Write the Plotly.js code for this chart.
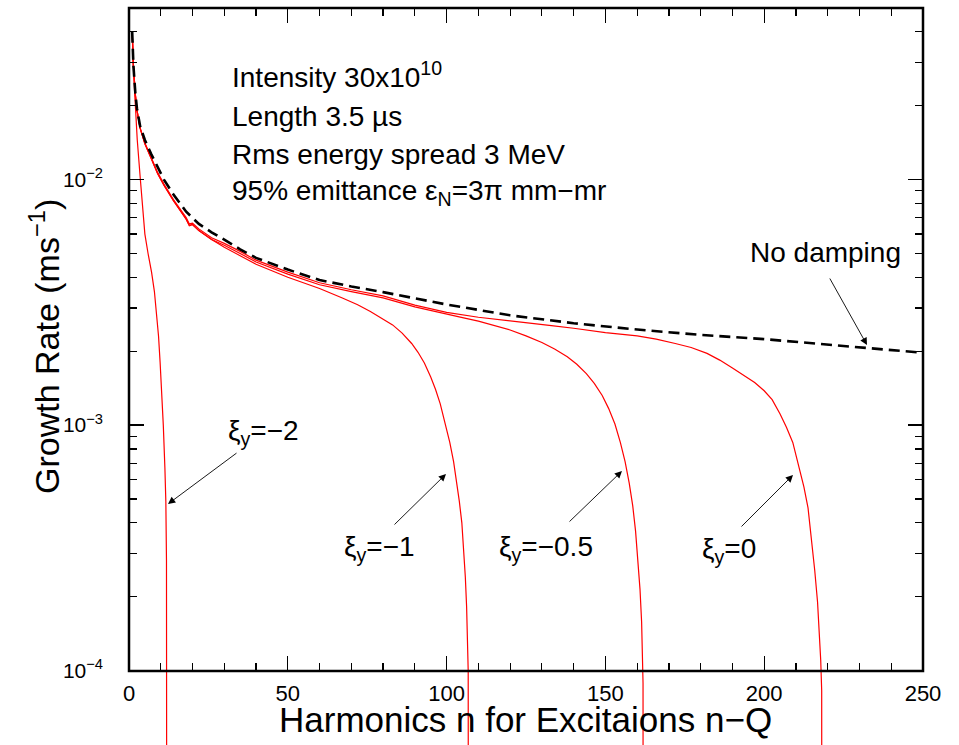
<!DOCTYPE html>
<html>
<head>
<meta charset="utf-8">
<script src="https://cdn.plot.ly/plotly-3.0.1.min.js"></script>
<style>html,body{margin:0;padding:0;background:#fff;}#chart{width:959px;height:745px;}</style>
</head>
<body>
<div id="chart"></div>
<script>
// ---- data ----
const noDampX = [1, 1.4, 2, 2.5, 3.5, 5, 7, 9, 11, 14, 18, 22, 26, 30, 35, 40, 50, 60, 70, 80, 100, 120, 140, 160, 180, 200, 225, 250];
const noDampY = [0.040, 0.029, 0.0225, 0.0195, 0.0165, 0.0145, 0.0127, 0.0112, 0.0100, 0.0087, 0.0074, 0.0066, 0.0061, 0.0057, 0.0052, 0.0048, 0.0043, 0.0039, 0.00367, 0.00348, 0.00310, 0.00280, 0.00260, 0.00245, 0.00233, 0.00224, 0.00210, 0.00197];

const xi0X = [1, 1.4, 2, 2.5, 3.5, 5, 7, 9, 11, 14, 18, 19, 20, 22, 26, 30, 35, 40, 50, 60, 70, 80, 90, 100, 110, 120, 133, 140, 150, 160, 166, 172, 177, 182, 186, 190, 194, 197, 200, 202.5, 205, 207, 209, 211, 212.5, 213.8, 214.9, 215.9, 216.8, 217.3, 217.8, 218.1, 218.2];
const xi0Y = [0.040, 0.029, 0.0222, 0.0192, 0.0162, 0.0141, 0.0123, 0.0107, 0.0096, 0.0083, 0.0070, 0.00660, 0.00665, 0.0063, 0.0058, 0.0055, 0.0051, 0.0047, 0.0042, 0.0038, 0.00356, 0.00336, 0.00308, 0.00288, 0.00275, 0.00265, 0.00254, 0.00248, 0.00238, 0.00231, 0.00224, 0.00215, 0.00207, 0.00196, 0.00184, 0.00171, 0.00158, 0.00149, 0.00138, 0.00127, 0.00111, 0.00098, 0.00085, 0.00068, 0.00056, 0.00046, 0.000347, 0.000257, 0.00019, 0.000148, 0.00011, 0.000083, 1e-6];

const xi05X = [1, 1.4, 2, 2.5, 3.5, 5, 7, 9, 11, 14, 18, 19, 20, 22, 26, 30, 35, 40, 50, 60, 70, 80, 90, 100, 105, 110, 115, 120, 125, 130, 134, 138, 141, 144, 146.5, 149, 151, 153, 154.7, 156.2, 157.5, 158.6, 159.5, 160.3, 160.9, 161.4, 161.7, 161.85, 161.9];
const xi05Y = [0.040, 0.029, 0.0222, 0.0192, 0.0162, 0.0140, 0.0122, 0.0106, 0.0095, 0.0082, 0.0069, 0.00652, 0.00658, 0.0062, 0.0057, 0.0054, 0.0050, 0.00462, 0.00412, 0.00373, 0.00350, 0.0033, 0.00303, 0.00282, 0.00274, 0.00265, 0.00255, 0.00244, 0.00231, 0.00217, 0.00204, 0.0019, 0.00177, 0.00162, 0.00148, 0.00132, 0.00117, 0.00101, 0.00085, 0.00071, 0.00058, 0.00047, 0.00037, 0.00028, 0.000214, 0.000158, 0.000117, 0.000089, 1e-6];

const xi1X = [1, 1.4, 2, 2.5, 3.5, 5, 7, 9, 11, 14, 18, 19, 20, 22, 26, 30, 35, 40, 50, 60, 67, 72, 76, 80, 83, 86, 89, 91, 93, 95, 96.5, 98, 99.5, 101, 102.2, 103.2, 104, 104.8, 105.4, 105.9, 106.3, 106.6, 106.8, 106.9];
const xi1Y = [0.040, 0.029, 0.0222, 0.0192, 0.0162, 0.0140, 0.0122, 0.0106, 0.0095, 0.0082, 0.0069, 0.00648, 0.00655, 0.0062, 0.0057, 0.0053, 0.0049, 0.00452, 0.0040, 0.0036, 0.0033, 0.00309, 0.0029, 0.00271, 0.00256, 0.00237, 0.00215, 0.00198, 0.00179, 0.00157, 0.0014, 0.00122, 0.00102, 0.00085, 0.00071, 0.00059, 0.00049, 0.0004, 0.000316, 0.00024, 0.000182, 0.000135, 0.0001, 1e-6];

const xi2X = [1, 1.3, 1.9, 2.6, 3.5, 4.2, 5.0, 6.0, 7.1, 8.0, 8.7, 9.3, 9.8, 10.3, 10.8, 11.3, 11.6, 11.8, 11.9, 11.95];
const xi2Y = [0.040, 0.030, 0.0212, 0.0145, 0.0103, 0.0078, 0.0060, 0.0050, 0.0042, 0.0035, 0.0028, 0.0023, 0.0018, 0.0014, 0.0010, 0.00067, 0.00049, 0.00028, 0.0001, 1e-6];

const yTickVals = [1e-4, 1e-3, 1e-2];
const yTickText = ['10<sup>\u22124</sup>', '10<sup>\u22123</sup>', '10<sup>\u22122</sup>'];
const yMinorVals = [2e-4,3e-4,4e-4,5e-4,6e-4,7e-4,8e-4,9e-4, 2e-3,3e-3,4e-3,5e-3,6e-3,7e-3,8e-3,9e-3, 2e-2,3e-2,4e-2];

const infoLines = ['Intensity 30x10<sup>10</sup>', 'Length 3.5 \u00b5s', 'Rms energy spread 3 MeV', '95% emittance \u03b5<sub>N</sub>=3\u03c0 mm\u2212mr'];
const curveLabels = ['\u03be<sub>y</sub>=\u22122', '\u03be<sub>y</sub>=\u22121', '\u03be<sub>y</sub>=\u22120.5', '\u03be<sub>y</sub>=0'];

// ---- layout helpers (pixel -> paper) ----
const L = 129, R = 36, T = 8, B = 0, W = 959, H = 745;
const pw = W - L - R, ph = H - T - B;
const px = p => (p - L) / pw;
const py = p => (H - B - p) / ph;
const FONT = 'Liberation Sans, Arial, Helvetica, sans-serif';
const xAxisPos = py(671);

const red = {color: '#ff0000', width: 1.2};
const traces = [
  {x: xi2X, y: xi2Y, mode: 'lines', line: red},
  {x: xi1X, y: xi1Y, mode: 'lines', line: red},
  {x: xi05X, y: xi05Y, mode: 'lines', line: red},
  {x: xi0X, y: xi0Y, mode: 'lines', line: red},
  {x: noDampX, y: noDampY, mode: 'lines', line: {color: '#000', width: 2.6, dash: '11px,6px'}},
  {x: [], y: [], xaxis: 'x2', yaxis: 'y', mode: 'lines', showlegend: false}
];

const ann = [];
const infoY = [75, 116, 155, 193];
infoLines.forEach((t, i) => ann.push({text: t, xref: 'paper', yref: 'paper', x: px(230), y: py(infoY[i]), xanchor: 'left', yanchor: 'middle', showarrow: false, font: {size: 28, family: FONT, color: '#000'}}));
ann.push({text: 'No damping', xref: 'paper', yref: 'paper', x: px(825), y: py(252), xanchor: 'center', yanchor: 'middle', showarrow: false, font: {size: 28, family: FONT, color: '#000'}});
const labPos = [[263, 433], [379, 548], [546, 548], [729, 550]];
curveLabels.forEach((t, i) => ann.push({text: t, xref: 'paper', yref: 'paper', x: px(labPos[i][0]), y: py(labPos[i][1]), xanchor: 'center', yanchor: 'middle', showarrow: false, font: {size: 28, family: FONT, color: '#000'}}));
// arrows: tip (px), tail offset (px)
const arrows = [[867, 345, -38, -68], [168, 504, 70, -52], [446, 474, -53, 52], [622, 471, -54, 52], [793, 475, -53, 53]];
arrows.forEach(a => ann.push({text: '', xref: 'paper', yref: 'paper', x: px(a[0]), y: py(a[1]), ax: a[2], ay: a[3], showarrow: true, arrowhead: 2, arrowsize: 1.6, arrowwidth: 0.9, arrowcolor: '#000'}));
// axis titles
ann.push({text: 'Harmonics n for Excitaions n\u2212Q', xref: 'paper', yref: 'paper', x: px(525), y: py(719), xanchor: 'center', yanchor: 'middle', showarrow: false, font: {size: 35, family: FONT, color: '#000'}});
ann.push({text: 'Growth Rate (ms<sup>\u22121</sup>)', xref: 'paper', yref: 'paper', x: px(44), y: py(347), xanchor: 'center', yanchor: 'middle', textangle: -90, showarrow: false, font: {size: 34, family: FONT, color: '#000'}});

const layout = {
  width: W, height: H,
  margin: {l: L, r: R, t: T, b: B, pad: 0},
  paper_bgcolor: '#fff', plot_bgcolor: '#fff',
  showlegend: false, hovermode: false,
  font: {family: FONT, color: '#000'},
  xaxis: {
    range: [0, 250], anchor: 'free', position: xAxisPos,
    tickmode: 'linear', tick0: 0, dtick: 50,
    ticks: 'inside', ticklen: 15, tickwidth: 1.3, tickcolor: '#000',
    minor: {dtick: 10, tick0: 0, ticks: 'inside', ticklen: 8, tickwidth: 1.2, tickcolor: '#000'},
    showgrid: false, zeroline: false, showline: false,
    tickfont: {size: 22, family: FONT, color: '#000'}, ticklabelstandoff: 7
  },
  xaxis2: {
    range: [0, 250], overlaying: 'x', side: 'top', anchor: 'y',
    tickmode: 'linear', tick0: 0, dtick: 50,
    ticks: 'inside', ticklen: 15, tickwidth: 1.3, tickcolor: '#000',
    minor: {dtick: 10, tick0: 0, ticks: 'inside', ticklen: 8, tickwidth: 1.2, tickcolor: '#000'},
    showgrid: false, zeroline: false, showline: false, showticklabels: false
  },
  yaxis: {
    type: 'log', range: [-4.303, -1.301], anchor: 'x',
    tickmode: 'array', tickvals: yTickVals, ticktext: yTickText,
    ticks: 'inside', ticklen: 15, tickwidth: 1.3, tickcolor: '#000', mirror: 'ticks',
    minor: {tickmode: 'array', tickvals: yMinorVals, ticks: 'inside', ticklen: 8, tickwidth: 1.2, tickcolor: '#000'},
    showgrid: false, zeroline: false, showline: false,
    tickfont: {size: 21, family: FONT, color: '#000'}, ticklabelstandoff: 25
  },
  shapes: [{type: 'rect', xref: 'paper', yref: 'paper', x0: 0, x1: 1, y0: xAxisPos, y1: 1, line: {color: '#000', width: 2.5}, fillcolor: 'rgba(0,0,0,0)'}],
  annotations: ann
};

Plotly.newPlot('chart', traces, layout, {staticPlot: true, displayModeBar: false});
</script>
</body>
</html>
